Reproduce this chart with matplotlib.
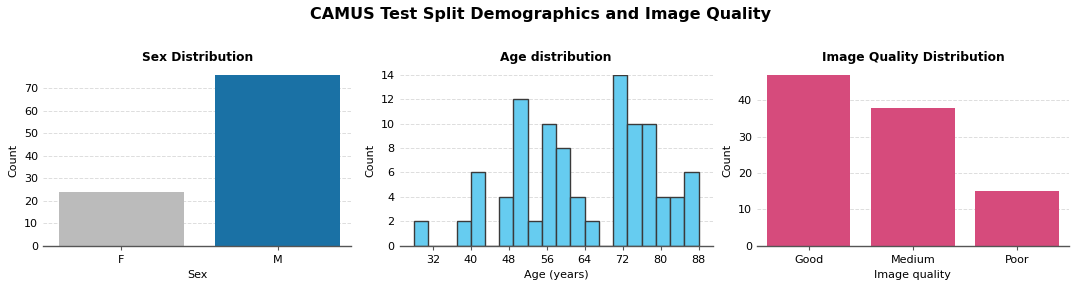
import numpy as np
from matplotlib import pyplot as plt

# sex split
sex_labels = ["F", "M"]
sex_counts = [24, 76]
sex_colors = ["#bbbbbb", "#1a71a5"]

# age histogram, 20 bins of 3 years
age_edges = [28, 31, 34, 37, 40, 43, 46, 49, 52, 55, 58, 61, 64, 67, 70, 73, 76, 79, 82, 85, 88]
age_counts = [2, 0, 0, 2, 6, 0, 4, 12, 2, 10, 8, 4, 2, 0, 14, 10, 10, 4, 4, 6]
age_ticks = [32, 40, 48, 56, 64, 72, 80, 88]

# image quality
quality_labels = ["Good", "Medium", "Poor"]
quality_counts = [47, 38, 15]


def style_ax(ax):
    for s in ["top", "right", "left"]:
        ax.spines[s].set_visible(False)
    ax.spines["bottom"].set_color("#555555")
    ax.spines["bottom"].set_linewidth(1.0)
    ax.tick_params(axis="y", length=0, labelsize=8)
    ax.tick_params(axis="x", length=3, labelsize=8, color="#555555")
    ax.yaxis.grid(True, linestyle="--", color="#dddddd", linewidth=0.7)
    ax.set_axisbelow(True)


fig = plt.figure(figsize=(10.8, 2.88), dpi=100)
fig.suptitle("CAMUS Test Split Demographics and Image Quality", fontsize=11.5,
             fontweight="bold", y=0.975)

ax1 = fig.add_axes([0.0398, 0.147, 0.2856, 0.593])
ax2 = fig.add_axes([0.3700, 0.147, 0.2900, 0.593])
ax3 = fig.add_axes([0.7006, 0.147, 0.2894, 0.593])

# sex
ax1.bar(range(len(sex_labels)), sex_counts, width=0.8, color=sex_colors)
ax1.set_xticks(range(len(sex_labels)))
ax1.set_xticklabels(sex_labels)
ax1.set_xlim(-0.5, 1.47)
ax1.set_yticks(np.arange(0, 71, 10))
ax1.set_ylim(0, max(sex_counts))
ax1.set_xlabel("Sex", fontsize=8)
ax1.set_ylabel("Count", fontsize=8)
ax1.set_title("Sex Distribution", fontsize=8.8, fontweight="bold", pad=10)
style_ax(ax1)

# age
ax2.hist(age_edges[:-1], bins=age_edges, weights=age_counts, color="#66ccf0",
         edgecolor="#3a3a3a", linewidth=1.0)
ax2.set_xticks(age_ticks)
ax2.set_yticks(np.arange(0, 15, 2))
ax2.set_ylim(0, max(age_counts))
ax2.set_xlabel("Age (years)", fontsize=8)
ax2.set_ylabel("Count", fontsize=8)
ax2.set_title("Age distribution", fontsize=8.8, fontweight="bold", pad=10)
style_ax(ax2)

# quality
ax3.bar(range(len(quality_labels)), quality_counts, width=0.8, color="#d64b7c")
ax3.set_xticks(range(len(quality_labels)))
ax3.set_xticklabels(quality_labels)
ax3.set_xlim(-0.5, 2.5)
ax3.set_yticks(np.arange(0, 41, 10))
ax3.set_ylim(0, max(quality_counts))
ax3.set_xlabel("Image quality", fontsize=8)
ax3.set_ylabel("Count", fontsize=8)
ax3.set_title("Image Quality Distribution", fontsize=8.8, fontweight="bold", pad=10)
style_ax(ax3)

fig.savefig("out.png", dpi=100)
